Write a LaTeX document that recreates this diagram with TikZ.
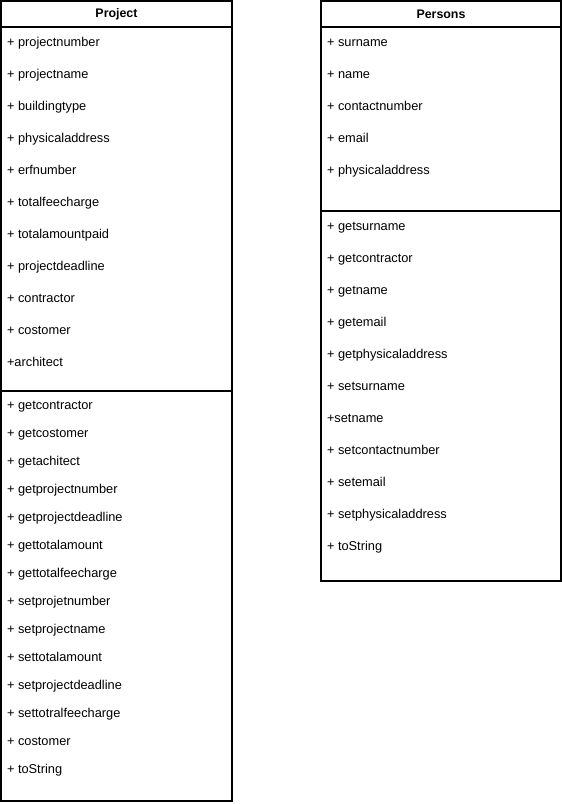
\documentclass[tikz,border=0pt]{standalone}
\usepackage{fontspec}
\setmainfont{Liberation Sans}
\usetikzlibrary{positioning}

\begin{document}
\begin{tikzpicture}[
    x=1pt, y=1pt,
    every node/.style={font=\fontsize{12.8}{14}\selectfont},
    header/.style={rectangle, draw, line width=1.5pt, outer sep=0pt, inner sep=0pt, minimum width=#1, minimum height=26pt, font=\fontsize{12.4}{14}\selectfont\bfseries},
    part/.style={rectangle, draw, line width=1.5pt, outer sep=0pt, inner sep=0pt, minimum width=#1},
    item/.style={inner sep=0pt, outer sep=0pt, text height=9pt, text depth=3pt}
]
\useasboundingbox (0,0) rectangle (562,-804);

% Project class
\node[header=231pt, anchor=north west] (project) at (1,-1) {Project};
\node[part=231pt, minimum height=364pt, below=0pt of project] (projattr) {};
\node[part=231pt, minimum height=410pt, below=0pt of projattr] (projmeth) {};

% Project attributes
\node[item, below right=10pt and 6pt of projattr.north west] (pa1) {+ projectnumber};
\node[item, below right=20pt and 0pt of pa1.south west] (pa2) {+ projectname};
\node[item, below right=20pt and 0pt of pa2.south west] (pa3) {+ buildingtype};
\node[item, below right=20pt and 0pt of pa3.south west] (pa4) {+ physicaladdress};
\node[item, below right=20pt and 0pt of pa4.south west] (pa5) {+ erfnumber};
\node[item, below right=20pt and 0pt of pa5.south west] (pa6) {+ totalfeecharge};
\node[item, below right=20pt and 0pt of pa6.south west] (pa7) {+ totalamountpaid};
\node[item, below right=20pt and 0pt of pa7.south west] (pa8) {+ projectdeadline};
\node[item, below right=20pt and 0pt of pa8.south west] (pa9) {+ contractor};
\node[item, below right=20pt and 0pt of pa9.south west] (pa10) {+ costomer};
\node[item, below right=20pt and 0pt of pa10.south west] (pa11) {+architect};

% Project methods
\node[item, below right=9pt and 6pt of projmeth.north west] (pm1) {+ getcontractor};
\node[item, below right=16pt and 0pt of pm1.south west] (pm2) {+ getcostomer};
\node[item, below right=16pt and 0pt of pm2.south west] (pm3) {+ getachitect};
\node[item, below right=16pt and 0pt of pm3.south west] (pm4) {+ getprojectnumber};
\node[item, below right=16pt and 0pt of pm4.south west] (pm5) {+ getprojectdeadline};
\node[item, below right=16pt and 0pt of pm5.south west] (pm6) {+ gettotalamount};
\node[item, below right=16pt and 0pt of pm6.south west] (pm7) {+ gettotalfeecharge};
\node[item, below right=16pt and 0pt of pm7.south west] (pm8) {+ setprojetnumber};
\node[item, below right=16pt and 0pt of pm8.south west] (pm9) {+ setprojectname};
\node[item, below right=16pt and 0pt of pm9.south west] (pm10) {+ settotalamount};
\node[item, below right=16pt and 0pt of pm10.south west] (pm11) {+ setprojectdeadline};
\node[item, below right=16pt and 0pt of pm11.south west] (pm12) {+ settotralfeecharge};
\node[item, below right=16pt and 0pt of pm12.south west] (pm13) {+ costomer};
\node[item, below right=16pt and 0pt of pm13.south west] (pm14) {+ toString};

% Persons class
\node[header=240pt, anchor=north west] (persons) at (321,-1) {Persons};
\node[part=240pt, minimum height=184pt, below=0pt of persons] (persattr) {};
\node[part=240pt, minimum height=370pt, below=0pt of persattr] (persmeth) {};

% Persons attributes
\node[item, below right=10pt and 6pt of persattr.north west] (qa1) {+ surname};
\node[item, below right=20pt and 0pt of qa1.south west] (qa2) {+ name};
\node[item, below right=20pt and 0pt of qa2.south west] (qa3) {+ contactnumber};
\node[item, below right=20pt and 0pt of qa3.south west] (qa4) {+ email};
\node[item, below right=20pt and 0pt of qa4.south west] (qa5) {+ physicaladdress};

% Persons methods
\node[item, below right=10pt and 6pt of persmeth.north west] (qm1) {+ getsurname};
\node[item, below right=20pt and 0pt of qm1.south west] (qm2) {+ getcontractor};
\node[item, below right=20pt and 0pt of qm2.south west] (qm3) {+ getname};
\node[item, below right=20pt and 0pt of qm3.south west] (qm4) {+ getemail};
\node[item, below right=20pt and 0pt of qm4.south west] (qm5) {+ getphysicaladdress};
\node[item, below right=20pt and 0pt of qm5.south west] (qm6) {+ setsurname};
\node[item, below right=20pt and 0pt of qm6.south west] (qm7) {+setname};
\node[item, below right=20pt and 0pt of qm7.south west] (qm8) {+ setcontactnumber};
\node[item, below right=20pt and 0pt of qm8.south west] (qm9) {+ setemail};
\node[item, below right=20pt and 0pt of qm9.south west] (qm10) {+ setphysicaladdress};
\node[item, below right=20pt and 0pt of qm10.south west] (qm11) {+ toString};

\end{tikzpicture}
\end{document}
